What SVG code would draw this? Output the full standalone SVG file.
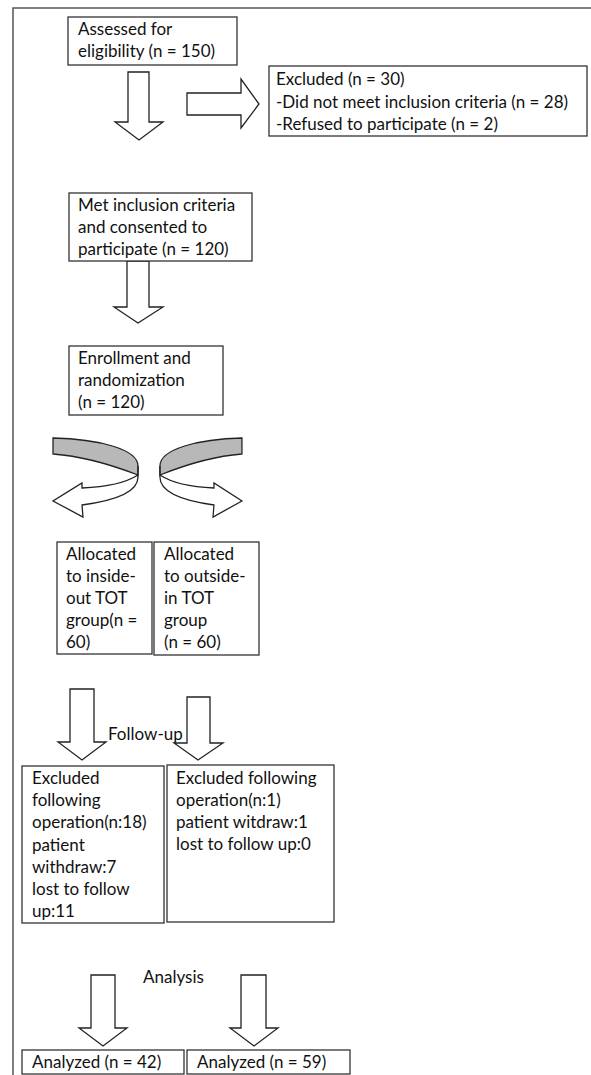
<svg xmlns="http://www.w3.org/2000/svg" width="591" height="1075" viewBox="0 0 591 1075">
<style>
.box{fill:#fff;stroke:#333;stroke-width:1.3}
.arr{fill:#fff;stroke:#222;stroke-width:1.3;stroke-linejoin:miter}
.grey{fill:#b8b8b8;stroke:#222;stroke-width:1.3}
.frame{fill:none;stroke:#555;stroke-width:1.5}
text{font-family:Lato,"Liberation Sans",sans-serif;font-size:17px;fill:#111}
</style>
<rect width="591" height="1075" fill="#fff"/>
<path class="frame" d="M13,1075 L13,8 L591,8"/>
<g id="connectors">
<polygon class="arr" points="128,72 149,72 149,122 163,122 139,140 115,122 128,122"/>
<polygon class="arr" points="187,93 241,93 241,79 259,104 241,128 241,115 187,115"/>
<polygon class="arr" points="127,261 149,261 149,307 163,307 138,323 114,307 127,307"/>
<g id="curve-left">
<path class="grey" d="M53,438 C98,439 138,449 138,466 L138,475 C112,465 82,456 53,454 Z"/>
<path class="arr" d="M138,466 L138,477 C138,493 112,501 82,505 L83,517 L53,501 L82,483 L82,488 C106,487 127,482 138,475"/>
</g>
<g id="curve-right" transform="matrix(-0.965 0 0 1 293.1 0)">
<path class="grey" d="M53,438 C98,439 138,449 138,466 L138,475 C112,465 82,456 53,454 Z"/>
<path class="arr" d="M138,466 L138,477 C138,493 112,501 82,505 L83,517 L53,501 L82,483 L82,488 C106,487 127,482 138,475"/>
</g>
<polygon class="arr" points="70,689 94,689 94,742 106,742 82,760 58,742 70,742"/>
<text x="108" y="740">Follow-up</text>
<polygon class="arr" points="187,697 210,697 210,743 223,743 198,760 174,743 187,743"/>
<text x="143" y="983">Analysis</text>
<polygon class="arr" points="91,975 115,975 115,1028 127,1028 103,1046 79,1028 91,1028"/>
<polygon class="arr" points="241,975 266,975 266,1028 278,1028 254,1046 230,1028 241,1028"/>
</g>
<g id="assessed">
<rect class="box" x="68" y="17" width="169" height="48"/>
<text x="78" y="35">Assessed for</text>
<text x="78" y="57">eligibility (n = 150)</text>
</g>
<g id="excluded">
<rect class="box" x="269" y="66" width="318" height="70"/>
<text x="276" y="85">Excluded (n = 30)</text>
<text x="276" y="108">-Did not meet inclusion criteria (n = 28)</text>
<text x="276" y="130">-Refused to participate (n = 2)</text>
</g>
<g id="met">
<rect class="box" x="69" y="193" width="183" height="68"/>
<text x="78" y="211">Met inclusion criteria</text>
<text x="78" y="233">and consented to</text>
<text x="78" y="255">participate (n = 120)</text>
</g>
<g id="enrollment">
<rect class="box" x="69" y="346" width="154" height="69"/>
<text x="78" y="364">Enrollment and</text>
<text x="78" y="386">randomization</text>
<text x="78" y="408">(n = 120)</text>
</g>
<g id="alloc-inside">
<rect class="box" x="57" y="542" width="95" height="112"/>
<text x="66" y="560">Allocated</text>
<text x="66" y="582">to inside-</text>
<text x="66" y="604">out TOT</text>
<text x="66" y="626">group(n =</text>
<text x="66" y="648">60)</text>
</g>
<g id="alloc-outside">
<rect class="box" x="154" y="542" width="105" height="113"/>
<text x="164" y="560">Allocated</text>
<text x="164" y="582">to outside-</text>
<text x="164" y="604">in TOT</text>
<text x="164" y="626">group</text>
<text x="164" y="648">(n = 60)</text>
</g>
<g id="excl-left">
<rect class="box" x="22" y="766" width="142" height="157"/>
<text x="32" y="784">Excluded</text>
<text x="32" y="806">following</text>
<text x="32" y="828">operation(n:18)</text>
<text x="32" y="851">patient</text>
<text x="32" y="873">withdraw:7</text>
<text x="32" y="895">lost to follow</text>
<text x="32" y="917">up:11</text>
</g>
<g id="excl-right">
<rect class="box" x="167" y="765" width="167" height="157"/>
<text x="176" y="784">Excluded following</text>
<text x="176" y="806">operation(n:1)</text>
<text x="176" y="828">patient witdraw:1</text>
<text x="176" y="850">lost to follow up:0</text>
</g>
<g id="analyzed-left">
<rect class="box" x="22" y="1050" width="162" height="24"/>
<text x="32" y="1068">Analyzed (n = 42)</text>
</g>
<g id="analyzed-right">
<rect class="box" x="187" y="1050" width="163" height="24"/>
<text x="197" y="1068">Analyzed (n = 59)</text>
</g>
</svg>
